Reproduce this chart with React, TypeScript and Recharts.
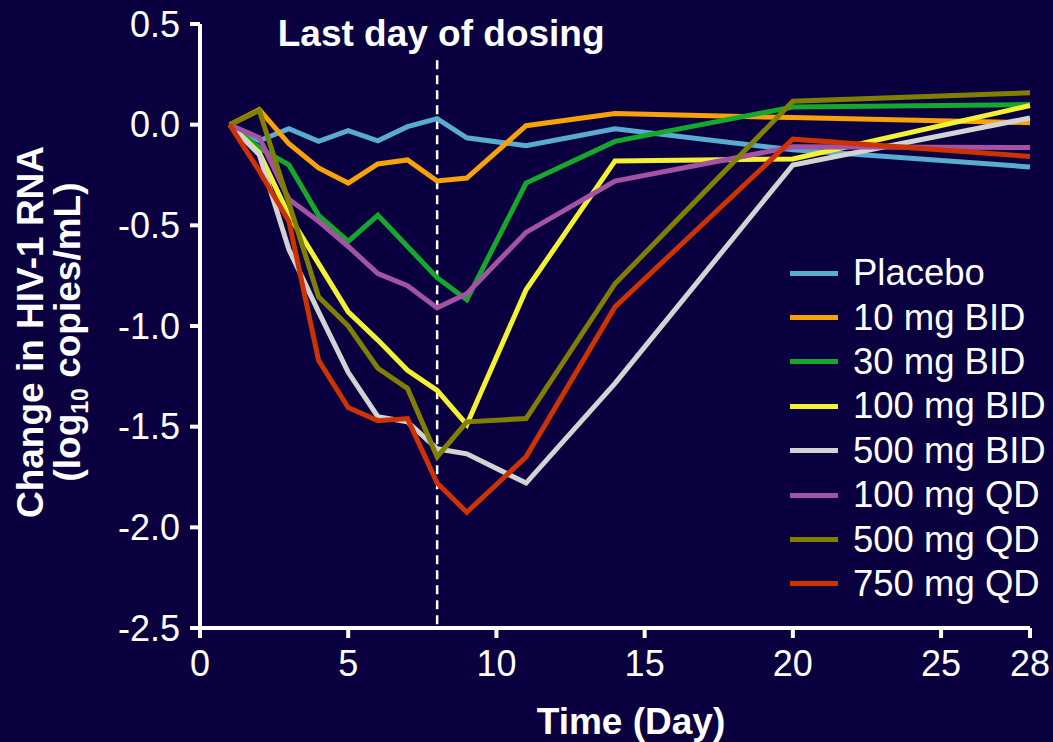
import { LineChart, Line, XAxis, YAxis, ReferenceLine } from "recharts";

const days = [1, 2, 3, 4, 5, 6, 7, 8, 9, 11, 14, 20, 28];

const placebo = [0, -0.08, -0.02, -0.083, -0.03, -0.08, -0.01, 0.03, -0.065, -0.105, -0.02, -0.125, -0.21];
const bid10 = [0, 0.075, -0.095, -0.215, -0.29, -0.195, -0.175, -0.28, -0.265, -0.005, 0.055, 0.035, 0.01];
const bid30 = [0, -0.115, -0.2, -0.45, -0.58, -0.45, -0.605, -0.76, -0.87, -0.29, -0.083, 0.088, 0.1];
const bid100 = [0, -0.14, -0.45, -0.69, -0.93, -1.07, -1.22, -1.32, -1.49, -0.82, -0.18, -0.17, 0.095];
const bid500 = [0, -0.15, -0.62, -0.93, -1.23, -1.45, -1.476, -1.61, -1.635, -1.78, -1.285, -0.2, 0.033];
const qd100 = [0, -0.065, -0.37, -0.48, -0.605, -0.74, -0.8, -0.91, -0.84, -0.535, -0.28, -0.11, -0.113];
const qd500 = [0, 0.07, -0.39, -0.855, -1.0, -1.21, -1.31, -1.65, -1.476, -1.46, -0.79, 0.116, 0.158];
const qd750 = [0, -0.23, -0.48, -1.17, -1.405, -1.47, -1.46, -1.78, -1.925, -1.65, -0.905, -0.072, -0.158];

const xTicks = [0, 5, 10, 15, 20, 25, 28];
const yTicks = [-2.5, -2, -1.5, -1, -0.5, 0, 0.5];
const lastDosingDay = 8;

const series = [
  { key: "placebo", name: "Placebo", values: placebo, color: "#5aabd0" },
  { key: "bid10", name: "10 mg BID", values: bid10, color: "#f7a20a" },
  { key: "bid30", name: "30 mg BID", values: bid30, color: "#16a82c" },
  { key: "bid100", name: "100 mg BID", values: bid100, color: "#f2f233" },
  { key: "bid500", name: "500 mg BID", values: bid500, color: "#d3d3d3" },
  { key: "qd100", name: "100 mg QD", values: qd100, color: "#a452a4" },
  { key: "qd500", name: "500 mg QD", values: qd500, color: "#808000" },
  { key: "qd750", name: "750 mg QD", values: qd750, color: "#cc3300" },
];

const data = days.map((d, i) => {
  const row: Record<string, number> = { day: d };
  series.forEach((s) => (row[s.key] = s.values[i]));
  return row;
});

const BG = "#0a003f";
const FONT = "'Liberation Sans', Arial, sans-serif";

function YLabel() {
  return (
    <g fill="#fff" fontFamily={FONT} fontWeight="bold" fontSize={37} textAnchor="middle">
      <text transform="translate(43,332) rotate(-90)">Change in HIV-1 RNA</text>
      <text transform="translate(80,332) rotate(-90)">
        (log<tspan fontSize={23} dy={8}>10</tspan>
        <tspan dy={-8}> copies/mL)</tspan>
      </text>
    </g>
  );
}

function XLabel() {
  return (
    <text x={631} y={734} fill="#fff" fontFamily={FONT} fontWeight="bold" fontSize={37} textAnchor="middle">
      Time (Day)
    </text>
  );
}

export default function App() {
  return (
    <div style={{ position: "absolute", left: 0, top: 0, width: 1053, height: 742, background: BG, overflow: "hidden" }}>
      <LineChart width={1053} height={742} data={data} margin={{ top: 24, right: 23, bottom: 0, left: 0 }}>
        <XAxis
          dataKey="day"
          type="number"
          domain={[0, 28]}
          ticks={xTicks}
          interval={0}
          height={114}
          stroke="#fff"
          strokeWidth={4}
          tickSize={10}
          tickMargin={12}
          tick={{ fill: "#fff", fontSize: 36, fontFamily: FONT }}
          label={{ content: () => <XLabel /> }}
        />
        <YAxis
          type="number"
          domain={[-2.5, 0.5]}
          ticks={yTicks}
          interval={0}
          width={200}
          stroke="#fff"
          strokeWidth={4}
          tickSize={10}
          tickMargin={10}
          tickFormatter={(v: number) => v.toFixed(1)}
          tick={{ fill: "#fff", fontSize: 36, fontFamily: FONT }}
          label={{ content: () => <YLabel /> }}
        />
        <ReferenceLine
          segment={[
            { x: lastDosingDay, y: 0.32 },
            { x: lastDosingDay, y: -2.5 },
          ]}
          stroke="#fff"
          strokeWidth={2.5}
          strokeDasharray="9 6"
          label={{ value: "Last day of dosing", position: "top", offset: 14, dx: 4, fill: "#fff", fontSize: 37, fontWeight: "bold", fontFamily: FONT }}
        />
        {series.map((s) => (
          <Line
            key={s.key}
            dataKey={s.key}
            name={s.name}
            type="linear"
            stroke={s.color}
            strokeWidth={5}
            dot={false}
            isAnimationActive={false}
          />
        ))}
      </LineChart>
      <div style={{ position: "absolute", left: 790, top: 251, fontFamily: FONT, fontSize: 36.5, color: "#fff" }}>
        {series.map((s) => (
          <div key={s.key} style={{ display: "flex", alignItems: "center", height: 44.4 }}>
            <div style={{ width: 48, height: 5, background: s.color, marginRight: 15 }} />
            <span style={{ lineHeight: "44px" }}>{s.name}</span>
          </div>
        ))}
      </div>
    </div>
  );
}
